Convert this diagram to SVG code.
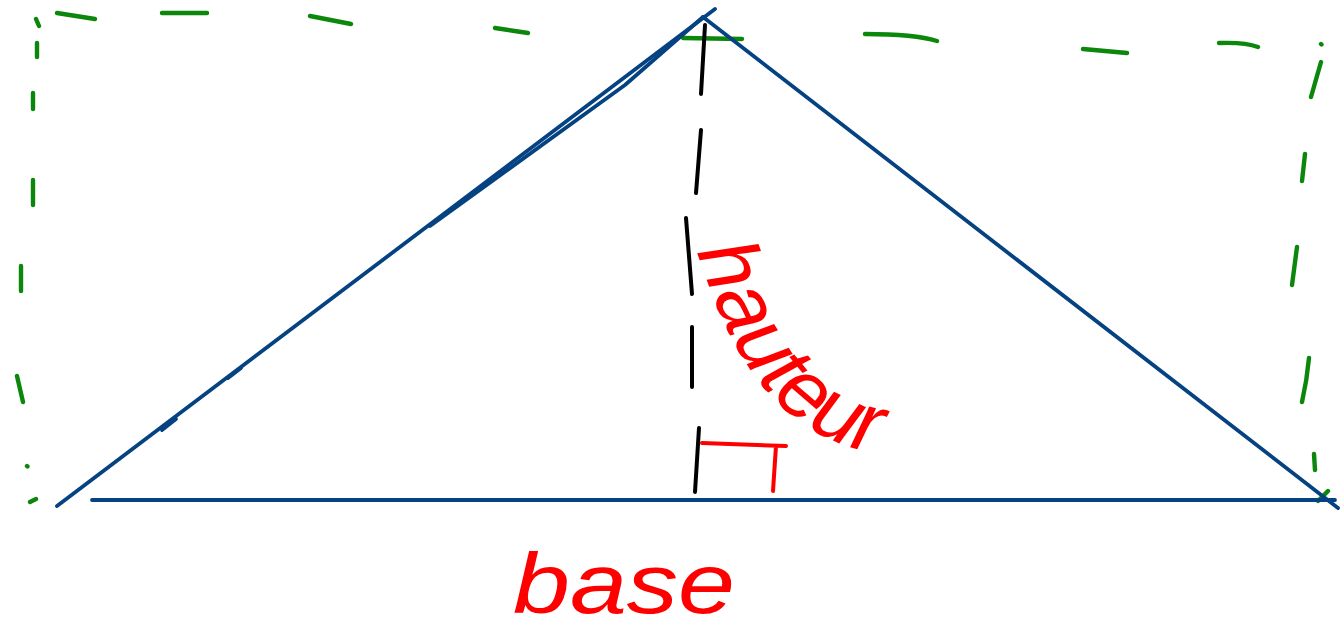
<svg xmlns="http://www.w3.org/2000/svg" xmlns:xlink="http://www.w3.org/1999/xlink" width="1340" height="636" viewBox="0 0 1340 636">
<style>
.blue{fill:none;stroke:#054282;stroke-width:3.8;stroke-linecap:round;stroke-linejoin:round}
.green{fill:none;stroke:#0b870b;stroke-width:4.4;stroke-linecap:round}
.black{fill:none;stroke:#000;stroke-width:4;stroke-linecap:round}
.redl{fill:none;stroke:#ff0000;stroke-width:4;stroke-linecap:round}
.lbl{fill:#ff0000;font-family:"Liberation Sans",Arial,sans-serif;font-style:italic}
</style>
<defs>
<path id="hpath" d="M697,252 C728,345 770,438 885,455"/>
</defs>
<rect width="1340" height="636" fill="#fff"/>
<g id="rectangle">
<path class="green" d="M36,19 L39,26 M57,13 L95,19 M162,13 L207,13 M310,16 L351,24 M495,28 L528,33 M683,38 L742,39 M865,34 Q915,34 937,41 M1083,49 L1127,53 M1219,43 Q1245,42 1258,47 M1321,44 L1321.5,44.5"/>
<path class="green" d="M1321,62 L1311,97 M1305,154 L1302,181 M1297,247 L1292,285 M1309,358 Q1307,380 1302,402 M1314,454 L1315,470 M1318,501 L1328,491"/>
<path class="green" d="M37,43 L37,57 M33,93 L33,109 M33,180 L33,205 M21,266 L21,291 M17,376 L23,402 M27,466 L27.5,466.5 M30,502 L36,499"/>
</g>
<g id="triangle">
<path class="blue" d="M57,506 L715,9"/>
<path class="blue" d="M703,17 L625,85 L430,226"/>
<path class="blue" d="M703,17 L1338,508"/>
<path class="blue" d="M92,500 L1335,500"/>
<path class="blue" d="M162,430 L176,419 M228,378 L241,368"/>
</g>
<g id="height">
<path class="black" d="M705,25 L701,94 M701,130 L696,193 M686,218 L692,294 M692,327 L692,387 M699,428 L695,492"/>
</g>
<g id="right-angle">
<path class="redl" d="M702,443 L786,446 M776,446 L773,491"/>
</g>
<g id="label-hauteur">
<text class="lbl" font-size="84"><textPath xlink:href="#hpath" href="#hpath">hauteur</textPath></text>
</g>
<g id="label-base">
<text class="lbl" x="513" y="613" font-size="86" textLength="222" lengthAdjust="spacingAndGlyphs">base</text>
</g>
</svg>
